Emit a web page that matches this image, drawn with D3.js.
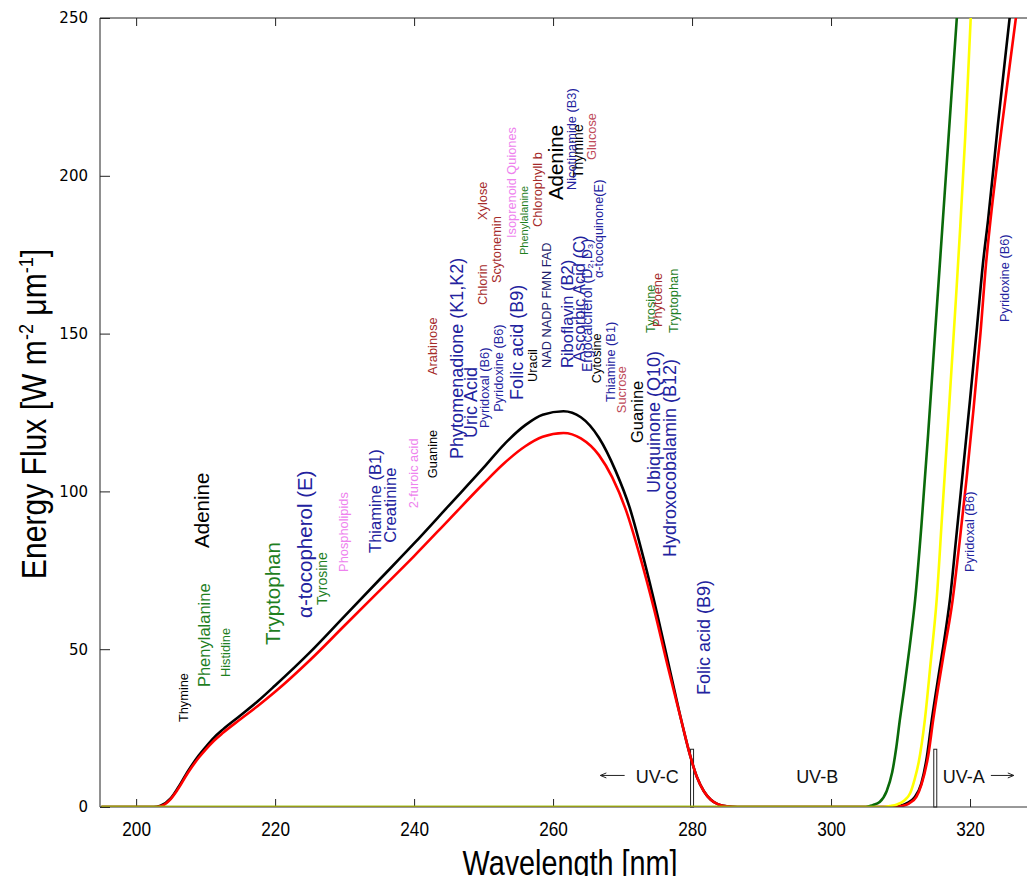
<!DOCTYPE html>
<html>
<head>
<meta charset="utf-8">
<script src="https://cdn.jsdelivr.net/npm/d3@7"></script>
<style>
  html, body { margin: 0; padding: 0; background: #fff; }
  svg { display: block; }
</style>
</head>
<body>
<svg id="chart" width="1027" height="876"></svg>
<script>
// ---------------- data ----------------
const xTicks = [200, 220, 240, 260, 280, 300, 320];
const yTicks = [0, 50, 100, 150, 200, 250];

// spectral energy flux [W m^-2 um^-1] vs wavelength [nm]
const fluxBlack = [
  [195,0],[202.5,0],[203.5,0.4],[205,2.8],[206,6],[207.5,11.5],[209,16.3],[210,19],
  [211.2,22],[212.5,24.6],[215,29],[217.5,33.5],[220,38.5],[225,49],[230,60.5],
  [235,72],[240,83.5],[245,95.5],[250,107.5],[253,115],[256,121],[258.5,124.3],
  [261.5,125.4],[264,123.5],[266.6,117],[269,106.5],[271,95],[273,79],[275,61],
  [277,41.5],[278.5,27],[279.7,16.5],[280.7,9.5],[281.7,5],[282.7,2.3],[283.7,0.9],
  [285,0.2],[286.5,0],[309,0],[310,0.4],[311,1.3],[312,3],[313,7.5],
  [313.8,16],[314.5,27.6],[315.5,42],[316.3,53],[317.1,65.6],[318,85],[319,107],
  [320,129],[321,152],[321.9,173],[322.6,186],[324,216],[325.7,250],[327,276]
];
const fluxRed = [
  [195,0],[202.7,0],[203.7,0.4],[205,2.6],[206,5.6],[207.5,11],[209,15.6],[210,18.2],
  [211.2,21],[212.5,23.5],[215,27.8],[217.5,32],[220,36.5],[225,46.5],[230,57.5],
  [235,68.5],[240,79.5],[245,91],[250,102.5],[253,109],[256,114.3],[258.5,117.3],
  [261.5,118.5],[264,116.8],[266.6,111.5],[268.5,104.5],[270.5,94],[272.5,79.5],
  [274.5,63],[276.5,44.6],[278.5,27],[279.7,16.5],[280.7,9.5],[281.7,5],[282.7,2.3],
  [283.7,0.9],[285,0.2],[286.5,0],[309,0],[310.2,0.3],[311.2,1.1],
  [312.3,3.3],[313,7],[314,16.5],[314.7,27.6],[316.1,47],[317.5,65.6],[318.5,84],
  [319.5,104],[320.5,126],[321.5,150],[322.3,172],[322.9,185],[324.6,216],[326.6,250],[328,274]
];
const fluxGreen = [
  [195,0],[305,0],[306,0.6],[307,1.6],[308,5],[308.8,11],[309.4,19],[309.9,27.6],
  [310.5,37],[311.3,50.5],[312.1,65.6],[313,89],[314,119],[315,151],[316,183],
  [317,215],[318.1,250],[319,277]
];
const fluxYellow = [
  [195,0],[307.5,0],[308.5,0.3],[309.5,0.8],[310.5,2],[311.4,4.4],[312,8.5],
  [312.6,14],[313.5,27.6],[314.3,45],[315.2,65.6],[316,93],[317,127],[318,162],
  [318.6,184],[319.3,212],[320.1,250],[320.8,280]
];

// UV band boundaries
const bandEdges = [280, 315];
const bandEdgeFlux = 18.3;
const bandLabels = [
  { name: "UV-C", nm: 275.0, f: 7.6 },
  { name: "UV-B", nm: 298.0, f: 7.6 },
  { name: "UV-A", nm: 319.1, f: 7.6 }
];
const bandArrows = [
  { from: 270.3, to: 266.8, f: 10 },
  { from: 323.0, to: 326.3, f: 10 }
];

// absorbing biomolecules, anchored at the start of each rotated label
const nucleobaseLabels = [
  { t: "Thymine", nm: 206.8, f: 26.9, s: "S" },
  { t: "Adenine", nm: 209.5, f: 82.1, s: "L" },
  { t: "Guanine", nm: 242.6, f: 104.2, s: "S" },
  { t: "Uracil", nm: 257.0, f: 134.7, s: "S" },
  { t: "Cytosine", nm: 266.3, f: 134.3, s: "S" },
  { t: "Guanine", nm: 272.1, f: 115.3, s: "M" },
  { t: "Adenine", nm: 260.4, f: 192.3, s: "L" },
  { t: "Thymine", nm: 263.6, f: 199.3, s: "S2" }
];
const aminoAcidLabels = [
  { t: "Phenylalanine", nm: 209.8, f: 38.0, s: "M" },
  { t: "Histidine", nm: 212.8, f: 41.2, s: "S" },
  { t: "Tryptophan", nm: 219.7, f: 51.3, s: "L" },
  { t: "Tyrosine", nm: 226.8, f: 64.0, s: "S2" },
  { t: "Phenylalanine", nm: 255.8, f: 174.9, s: "XS" },
  { t: "Tyrosine", nm: 274.0, f: 150.2, s: "S" },
  { t: "Tryptophan", nm: 277.4, f: 150.2, s: "S" }
];
const vitaminLabels = [
  { t: "α-tocopherol (E)", nm: 224.3, f: 59.9, s: "L" },
  { t: "Thiamine (B1)", nm: 234.4, f: 80.5, s: "M" },
  { t: "Creatinine", nm: 236.5, f: 83.7, s: "M" },
  { t: "Phytomenadione (K1,K2)", nm: 246.2, f: 110.3, s: "M2" },
  { t: "Uric Acid", nm: 248.2, f: 116.9, s: "M2" },
  { t: "Pyridoxal (B6)", nm: 250.2, f: 120.1, s: "S" },
  { t: "Pyridoxine (B6)", nm: 252.1, f: 125.2, s: "S" },
  { t: "Folic acid (B9)", nm: 254.7, f: 129.0, s: "M2" },
  { t: "Riboflavin (B2)", nm: 262.0, f: 139.1, s: "M" },
  { t: "Ascorbic Acid (C)", nm: 263.7, f: 141.0, s: "M" },
  { t: "Ergocalciferol (D₂,D₃)", nm: 264.9, f: 137.8, s: "S2" },
  { t: "α-tocoquinone(E)", nm: 266.6, f: 167.6, s: "S" },
  { t: "Thiamine (B1)", nm: 268.3, f: 128.3, s: "S" },
  { t: "Ubiquinone (Q10)", nm: 274.5, f: 99.5, s: "M2" },
  { t: "Hydroxocobalamin (B12)", nm: 276.8, f: 79.2, s: "M2" },
  { t: "Nicotinamide (B3)", nm: 262.6, f: 195.5, s: "S" },
  { t: "Folic acid (B9)", nm: 281.7, f: 35.5, s: "M2" },
  { t: "Pyridoxine (B6)", nm: 324.9, f: 153.7, s: "S" },
  { t: "Pyridoxal (B6)", nm: 319.9, f: 74.5, s: "S" }
];
const cofactorLabels = [
  { t: "NAD NADP FMN FAD", nm: 259.1, f: 139.1, s: "S" }
];
const pigmentLabels = [
  { t: "Arabinose", nm: 242.7, f: 136.9, s: "S" },
  { t: "Xylose", nm: 249.8, f: 186.0, s: "S" },
  { t: "Chlorin", nm: 249.9, f: 159.1, s: "S" },
  { t: "Scytonemin", nm: 251.8, f: 166.0, s: "S" },
  { t: "Chlorophyll b", nm: 257.8, f: 183.8, s: "S" },
  { t: "Phytoene", nm: 275.0, f: 152.1, s: "S" }
];
const sugarLabels = [
  { t: "Sucrose", nm: 269.8, f: 124.8, s: "S" },
  { t: "Glucose", nm: 265.5, f: 205.0, s: "S" }
];
const lipidLabels = [
  { t: "Phospholipids", nm: 229.8, f: 74.5, s: "S" },
  { t: "2-furoic acid", nm: 239.9, f: 94.7, s: "S" },
  { t: "Isoprenoid Quiones", nm: 254.0, f: 180.3, s: "S" }
];

// ---------------- layout & styles ----------------
const labelSize = { L: 20.5, M2: 18, M: 16.5, S2: 14, S: 12.8, XS: 11 };
const labelFont = "'Liberation Sans', Arial, sans-serif";

const svg = d3.select("#chart");
const plot = { left: 100, right: 1027, top: 18, bottom: 807 };

const x = d3.scaleLinear().domain([194.8, 328.2]).range([plot.left, plot.right]);
const y = d3.scaleLinear().domain([0, 250]).range([plot.bottom, plot.top]);

svg.append("defs").append("clipPath").attr("id", "plotClip")
  .append("rect")
  .attr("x", plot.left).attr("y", plot.top)
  .attr("width", plot.right - plot.left).attr("height", plot.bottom - plot.top);

// ticks (inward, mirrored on top)
const gx = svg.append("g").attr("transform", `translate(0,${plot.bottom})`)
  .call(d3.axisBottom(x).tickValues(xTicks).tickSize(-8).tickPadding(15).tickFormat(d3.format("d")));
const gxTop = svg.append("g").attr("transform", `translate(0,${plot.top})`)
  .call(d3.axisTop(x).tickValues(xTicks).tickSize(-8).tickFormat(""));
const gy = svg.append("g").attr("transform", `translate(${plot.left},0)`)
  .call(d3.axisLeft(y).tickValues(yTicks).tickSize(-10).tickPadding(12));

[gx, gxTop, gy].forEach(g => {
  g.select(".domain").remove();
  g.selectAll(".tick line").attr("stroke", "#222").attr("stroke-width", 1);
});
// condensed face for the wavelength ticks
gx.selectAll(".tick text")
  .attr("font-family", labelFont).attr("font-size", 20).attr("fill", "#000")
  .attr("transform", "scale(0.86,1)");
gy.selectAll(".tick text")
  .attr("font-family", "'DejaVu Sans', Verdana, sans-serif").attr("font-size", 15).attr("fill", "#000");

// left and top border
svg.append("path")
  .attr("d", `M${plot.left},${plot.bottom}V${plot.top}H${plot.right}`)
  .attr("fill", "none").attr("stroke", "#222").attr("stroke-width", 1);

// band edge markers
svg.append("g").selectAll("rect").data(bandEdges).enter().append("rect")
  .attr("x", d => x(d) - 1.5).attr("y", y(bandEdgeFlux))
  .attr("width", 3).attr("height", y(0) - y(bandEdgeFlux))
  .attr("fill", "#fff").attr("stroke", "#222").attr("stroke-width", 1);

// spectra
const line = d3.line().x(d => x(d[0])).y(d => y(d[1])).curve(d3.curveMonotoneX);
const series = [
  { data: fluxBlack, color: "#000000" },
  { data: fluxRed, color: "#ff0000" },
  { data: fluxGreen, color: "#0a6a0a" },
  { data: fluxYellow, color: "#ffff00" }
];
svg.append("g").attr("clip-path", "url(#plotClip)")
  .selectAll("path").data(series).enter().append("path")
  .attr("d", d => line(d.data))
  .attr("fill", "none").attr("stroke", d => d.color)
  .attr("stroke-width", 2.6).attr("stroke-linejoin", "round");

// bottom border drawn over the spectra
svg.append("line")
  .attr("x1", plot.left).attr("x2", plot.right)
  .attr("y1", plot.bottom).attr("y2", plot.bottom)
  .attr("stroke", "#333").attr("stroke-width", 1);

// UV band names and arrows
svg.append("g").selectAll("text").data(bandLabels).enter().append("text")
  .attr("x", d => x(d.nm)).attr("y", d => y(d.f))
  .attr("text-anchor", "middle")
  .attr("font-family", labelFont).attr("font-size", 18).attr("fill", "#111")
  .text(d => d.name);

const arrows = svg.append("g").attr("stroke", "#222").attr("stroke-width", 1).attr("fill", "none");
bandArrows.forEach(a => {
  const x0 = x(a.from), x1 = x(a.to), yy = y(a.f);
  const dir = Math.sign(x1 - x0);
  arrows.append("path")
    .attr("d", `M${x0},${yy}H${x1}M${x1 - dir * 6},${yy - 2.5}L${x1},${yy}L${x1 - dir * 6},${yy + 2.5}`);
});

// compound labels
const labels = svg.append("g").attr("font-family", labelFont);
function drawLabels(list, color) {
  labels.append("g").selectAll("text").data(list).enter().append("text")
    .attr("transform", d => `translate(${x(d.nm)},${y(d.f)}) rotate(-90)`)
    .attr("dy", "0.35em")
    .attr("font-size", d => labelSize[d.s])
    .attr("fill", color)
    .text(d => d.t);
}
drawLabels(nucleobaseLabels, "#000000");
drawLabels(aminoAcidLabels, "#1f801f");
drawLabels(vitaminLabels, "#22229e");
drawLabels(cofactorLabels, "#1e1e6e");
drawLabels(pigmentLabels, "#a52a2a");
drawLabels(sugarLabels, "#be4a5a");
drawLabels(lipidLabels, "#ee82ee");

// axis titles (horizontally condensed)
svg.append("text")
  .attr("transform", "translate(570,875) scale(0.8,1)")
  .attr("text-anchor", "middle")
  .attr("font-family", labelFont).attr("font-size", 36).attr("fill", "#000")
  .text("Wavelength [nm]");

const yTitle = svg.append("text")
  .attr("transform", "translate(46,414) rotate(-90) scale(0.86,1)")
  .attr("text-anchor", "middle")
  .attr("font-family", labelFont).attr("font-size", 35).attr("fill", "#000");
yTitle.append("tspan").text("Energy Flux [W m");
yTitle.append("tspan").attr("font-size", 21).attr("dy", -13).text("-2");
yTitle.append("tspan").attr("dy", 13).text(" μm");
yTitle.append("tspan").attr("font-size", 21).attr("dy", -13).text("-1");
yTitle.append("tspan").attr("dy", 13).text("]");
</script>
</body>
</html>
